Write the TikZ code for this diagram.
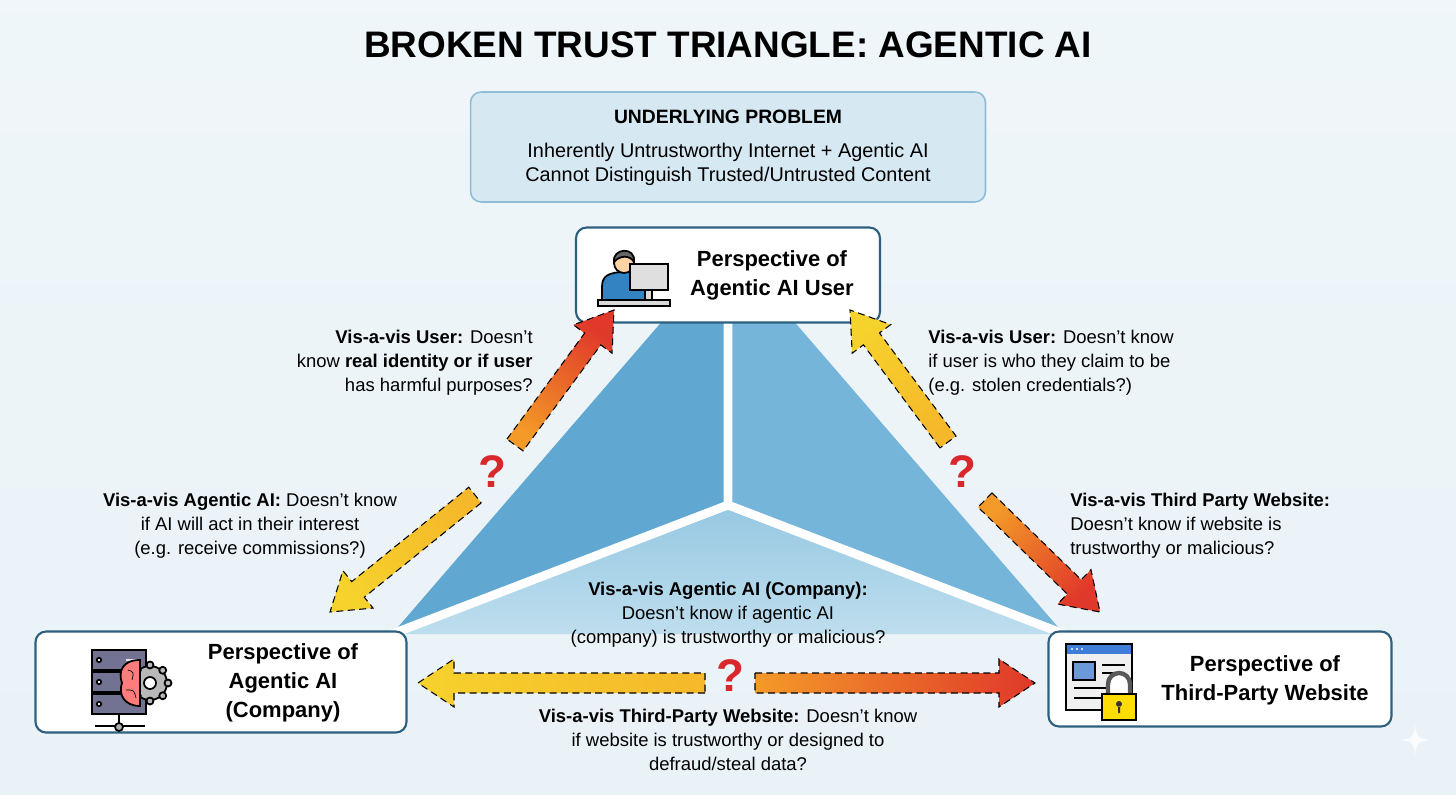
\documentclass[tikz,border=0pt]{standalone}
\usepackage{fontspec}
\setmainfont{Liberation Sans}
\usetikzlibrary{calc,shapes.geometric}
\definecolor{bgc}{HTML}{E9F2F7}
\definecolor{frame}{HTML}{2D5F7E}
\definecolor{qred}{HTML}{D9282C}
\definecolor{probdraw}{HTML}{8FBDD6}
\definecolor{probfill}{HTML}{D6E8F2}
\definecolor{ay}{HTML}{F6D22C}
\definecolor{ao}{HTML}{F39A28}
\definecolor{aoy}{HTML}{F5B82A}
\definecolor{ar}{HTML}{E0382A}
\tikzset{
  x=0.02cm,y=-0.02cm,
  pbox/.style={draw=frame,line width=1.2pt,rounded corners=6pt,fill=white},
  ptext/.style={font=\fontsize{12.5}{16.5}\selectfont\bfseries,align=center},
  lbl/.style={font=\fontsize{10.5}{13.6}\selectfont,inner sep=0pt},
  qm/.style={font=\fontsize{26}{26}\selectfont\bfseries,text=qred},
}
% arrow: tail, tip, tail colour, tip colour, shading angle
\newcommand\tarrow[5]{%
  \shade[shading=axis,top color=#4,bottom color=#3,shading angle=#5]
    ($(#1)!0.2cm!90:(#2)$) -- ($($(#2)!0.72cm!(#1)$)!0.2cm!-90:(#1)$) --
    ($($(#2)!0.72cm!(#1)$)!0.48cm!-90:(#1)$) -- (#2) --
    ($($(#2)!0.72cm!(#1)$)!0.48cm!90:(#1)$) --
    ($($(#2)!0.72cm!(#1)$)!0.2cm!90:(#1)$) -- ($(#1)!0.2cm!-90:(#2)$) -- cycle;
  \draw[black,line width=0.6pt,dash pattern=on 4pt off 2.5pt]
    ($(#1)!0.2cm!90:(#2)$) -- ($($(#2)!0.72cm!(#1)$)!0.2cm!-90:(#1)$) --
    ($($(#2)!0.72cm!(#1)$)!0.48cm!-90:(#1)$) -- (#2) --
    ($($(#2)!0.72cm!(#1)$)!0.48cm!90:(#1)$) --
    ($($(#2)!0.72cm!(#1)$)!0.2cm!90:(#1)$) -- ($(#1)!0.2cm!-90:(#2)$) -- cycle;
}
\begin{document}
\begin{tikzpicture}
\shade[top color=bgc!70!white,bottom color=bgc] (0,0) rectangle (1456,794);
\useasboundingbox (0,0) rectangle (1456,794);

% title
\node[font=\fontsize{21}{24}\selectfont\bfseries] (title) at (728,45) {BROKEN TRUST TRIANGLE: AGENTIC AI};

% underlying problem
\node[draw=probdraw,line width=0.9pt,rounded corners=6pt,fill=probfill,
  minimum width=10.3cm,minimum height=2.2cm] (prob) at (728,147) {};
\node[font=\fontsize{11}{13}\selectfont\bfseries] (probt) at (728,117) {UNDERLYING PROBLEM};
\node[font=\fontsize{11.3}{13.6}\selectfont,align=center] (probx) at (728,164)
  {Inherently Untrustworthy Internet + Agentic AI\\Cannot Distinguish Trusted/Untrusted Content};

% triangle
\coordinate (tA) at (728,245);
\coordinate (tL) at (392,634);
\coordinate (tR) at (1064,634);
\coordinate (tC) at (728,505);
\fill[color={rgb,255:red,96;green,168;blue,209}] (tA) -- (tL) -- (tC) -- cycle;
\fill[color={rgb,255:red,118;green,181;blue,218}] (tA) -- (tR) -- (tC) -- cycle;
\shade[top color={rgb,255:red,150;green,200;blue,226},bottom color={rgb,255:red,190;green,222;blue,238}] (tL) -- (tC) -- (tR) -- cycle;
\draw[white,line width=5pt] (tA) -- (tC) (tC) -- (tL) (tC) -- (tR);

% boxes
\node[pbox,minimum width=6.08cm,minimum height=1.9cm] (user) at (728,275) {};
\node[ptext] (usert) at (772,275) {Perspective of\\Agentic AI User};
\node[pbox,minimum width=7.42cm,minimum height=2.02cm] (comp) at (221,682) {};
\node[ptext] (compt) at (283,683) {Perspective of\\Agentic AI\\(Company)};
\node[pbox,minimum width=6.86cm,minimum height=1.9cm] (web) at (1220,679) {};
\node[ptext] (webt) at (1265,680) {Perspective of\\Third-Party Website};

% user icon
\begin{scope}[line width=1pt]
  \draw[fill=blue!45!cyan!70!black!80] (602,305) -- (602,287) .. controls (602,276) and (608,272) .. (626,272) .. controls (640,272) and (645,278) .. (645,290) -- (645,305) -- cycle;
  \draw[fill=orange!35!white] (624,263) circle (10);
  \draw[fill=darkgray!80] (614,262) .. controls (612,248) and (636,246) .. (634,262) .. controls (630,255) and (620,255) .. (614,262) -- cycle;
  \draw[fill=gray!25] (630,264) rectangle (668,290);
  \draw[fill=gray!30] (645,290) rectangle (652,300);
  \draw[fill=gray!30] (598,300) rectangle (670,306);
\end{scope}

% server icon
\begin{scope}[line width=1pt]
  \foreach \y in {650,672,694}{
    \draw[fill=gray!70!blue!60!black!70] (92,\y) rectangle (146,\y+20);
    \draw[fill=white] (99,\y+10) circle (2.2);}
  \draw[gray!20,line width=1.2pt] (126,660) -- (138,660);
  \draw (119,714) -- (119,726) (95,726) -- (145,726);
  \draw[fill=gray!60] (119,727) circle (4);
  \draw[fill=gray!55] (150,683) circle (17);
  \foreach \a in {0,45,...,315}{\draw[fill=gray!55] ($(150,683)+(\a:18)$) circle (3.5);}
  \draw[fill=white] (150,683) circle (6);
  \draw[fill=red!35!pink] (140,660) .. controls (122,660) and (118,672) .. (122,683) .. controls (118,694) and (124,706) .. (140,706) -- cycle;
  \draw[thin] (128,670) .. controls (134,672) .. (132,680) (126,690) .. controls (134,690) .. (136,698);
\end{scope}

% website icon
\begin{scope}[line width=1pt]
  \draw[fill=gray!12] (1066,644) rectangle (1132,710);
  \fill[blue!60!cyan!80!black!75] (1066,644) rectangle (1132,654);
  \draw (1066,644) rectangle (1132,710);
  \foreach \x in {1072,1077,1082}{\fill[white] (\x,649) circle (1.2);}
  \draw[fill=cyan!50!blue!60] (1073,662) rectangle (1095,680);
  \draw (1102,665) -- (1125,665) (1102,673) -- (1125,673) (1074,688) -- (1110,688) (1074,698) -- (1105,698);
  \draw[line width=2.5pt,gray!70!black,fill=white] (1108,694) -- (1108,684) arc (180:360:11) -- (1130,694);
  \draw[fill=yellow!80!orange] (1102,694) rectangle (1136,720);
  \fill[black!80] (1119,704) circle (3) (1118,706) rectangle (1120,713);
\end{scope}

% arrows
\coordinate (a1t) at (475,495); \coordinate (a1h) at (330,612);
\coordinate (a2t) at (515,445); \coordinate (a2h) at (614,310);
\coordinate (a3t) at (948,442); \coordinate (a3h) at (850,310);
\coordinate (a4t) at (985,500); \coordinate (a4h) at (1100,612);
\coordinate (a5t) at (705,683); \coordinate (a5h) at (418,683);
\coordinate (a6t) at (755,683); \coordinate (a6h) at (1035,683);
\tarrow{a1t}{a1h}{aoy}{ay}{128.9}
\tarrow{a2t}{a2h}{ao}{ar}{-36.3}
\tarrow{a3t}{a3h}{aoy}{ay}{36.6}
\tarrow{a4t}{a4h}{ao}{ar}{-134.2}
\tarrow{a5t}{a5h}{aoy}{ay}{90}
\tarrow{a6t}{a6h}{ao}{ar}{-90}

\node[qm] (q1) at (492,472) {?};
\node[qm] (q2) at (962,472) {?};
\node[qm] (q3) at (730,676) {?};

% labels
\node[lbl,anchor=north east,align=right] (l1) at (533,330)
  {\textbf{Vis-a-vis User:} Doesn't\\know \textbf{real identity or if user}\\has harmful purposes?};
\node[lbl,anchor=north west,align=left] (l2) at (928,330)
  {\textbf{Vis-a-vis User:} Doesn't know\\if user is who they claim to be\\(e.g. stolen credentials?)};
\node[lbl,anchor=north,align=center] (l3) at (250,493)
  {\textbf{Vis-a-vis Agentic AI:} Doesn't know\\if AI will act in their interest\\(e.g. receive commissions?)};
\node[lbl,anchor=north west,align=left] (l4) at (1070,493)
  {\textbf{Vis-a-vis Third Party Website:}\\Doesn't know if website is\\trustworthy or malicious?};
\node[lbl,anchor=north,align=center] (l5) at (728,582)
  {\textbf{Vis-a-vis Agentic AI (Company):}\\Doesn't know if agentic AI\\(company) is trustworthy or malicious?};
\node[lbl,anchor=north,align=center] (l6) at (728,709)
  {\textbf{Vis-a-vis Third-Party Website:} Doesn't know\\if website is trustworthy or designed to\\defraud/steal data?};

% sparkle
\fill[white,opacity=0.8] (1415,725) .. controls (1417,738) .. (1430,740) .. controls (1417,742) .. (1415,755) .. controls (1413,742) .. (1400,740) .. controls (1413,738) .. (1415,725) -- cycle;
\end{tikzpicture}
\end{document}
